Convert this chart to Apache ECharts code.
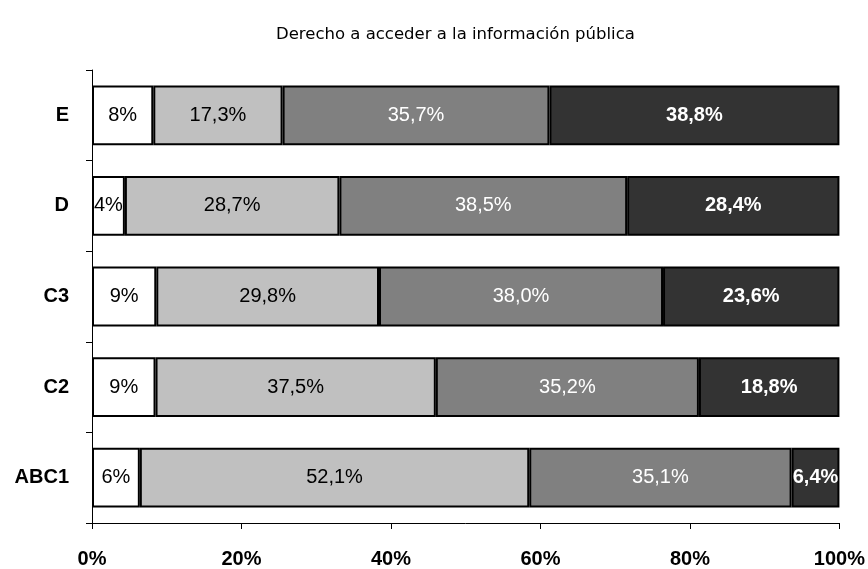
<!DOCTYPE html>
<html>
<head>
<meta charset="utf-8">
<script src="https://cdn.jsdelivr.net/npm/echarts@6/dist/echarts.min.js"></script>
<style>html,body{margin:0;padding:0;background:#fff}#c{width:868px;height:569px}</style>
</head>
<body>
<div id="c"></div>
<script>
var categories = ['E', 'D', 'C3', 'C2', 'ABC1'];
var s1 = [8.2, 4.4, 8.6, 8.5, 6.4];
var s2 = [17.3, 28.7, 29.8, 37.5, 52.1];
var s3 = [35.7, 38.5, 38.0, 35.2, 35.1];
var s4 = [38.8, 28.4, 23.6, 18.8, 6.4];
var xTicks = [0, 20, 40, 60, 80, 100];

var chart = echarts.init(document.getElementById('c'));
function fmt1(p){ return Math.round(p.value) + '%'; }
function fmtD(p){ return p.value.toFixed(1).replace('.', ',') + '%'; }
function mk(data, color, lblColor, bold, f){
  return {
    type: 'bar', stack: 'total', barCategoryGap: '34%',
    emphasis: { disabled: true },
    data: data,
    itemStyle: { color: color, borderColor: '#000', borderWidth: 2 },
    label: { show: true, position: 'inside', color: lblColor, fontFamily: 'Liberation Sans', fontSize: 20, fontWeight: bold ? 'bold' : 'normal', formatter: f }
  };
}
chart.setOption({
  animation: false,
  title: {
    text: 'Derecho a acceder a la información pública',
    left: 271, top: 21,
    textStyle: { fontFamily: 'DejaVu Sans', fontSize: 16.5, fontWeight: 'normal', color: '#000' }
  },
  grid: { left: 92, right: 28, top: 70, bottom: 45, containLabel: false },
  xAxis: {
    type: 'value', min: xTicks[0], max: xTicks[xTicks.length - 1], interval: 20,
    axisLine: { show: true, lineStyle: { color: '#000', width: 1 } },
    axisTick: { show: true, length: 6, lineStyle: { color: '#000' } },
    splitLine: { show: false },
    axisLabel: { formatter: '{value}%', margin: 26, fontFamily: 'Liberation Sans', fontSize: 20, fontWeight: 'bold', color: '#000' }
  },
  yAxis: {
    type: 'category', data: categories, inverse: true,
    axisLine: { show: true, lineStyle: { color: '#000', width: 1 } },
    axisTick: { show: true, length: 6, lineStyle: { color: '#000' } },
    axisLabel: { margin: 23, fontFamily: 'Liberation Sans', fontSize: 20, fontWeight: 'bold', color: '#000' }
  },
  series: [
    mk(s1, '#ffffff', '#000', false, fmt1),
    mk(s2, '#c0c0c0', '#000', false, fmtD),
    mk(s3, '#808080', '#fff', false, fmtD),
    mk(s4, '#333333', '#fff', true, fmtD)
  ]
});
</script>
</body>
</html>
